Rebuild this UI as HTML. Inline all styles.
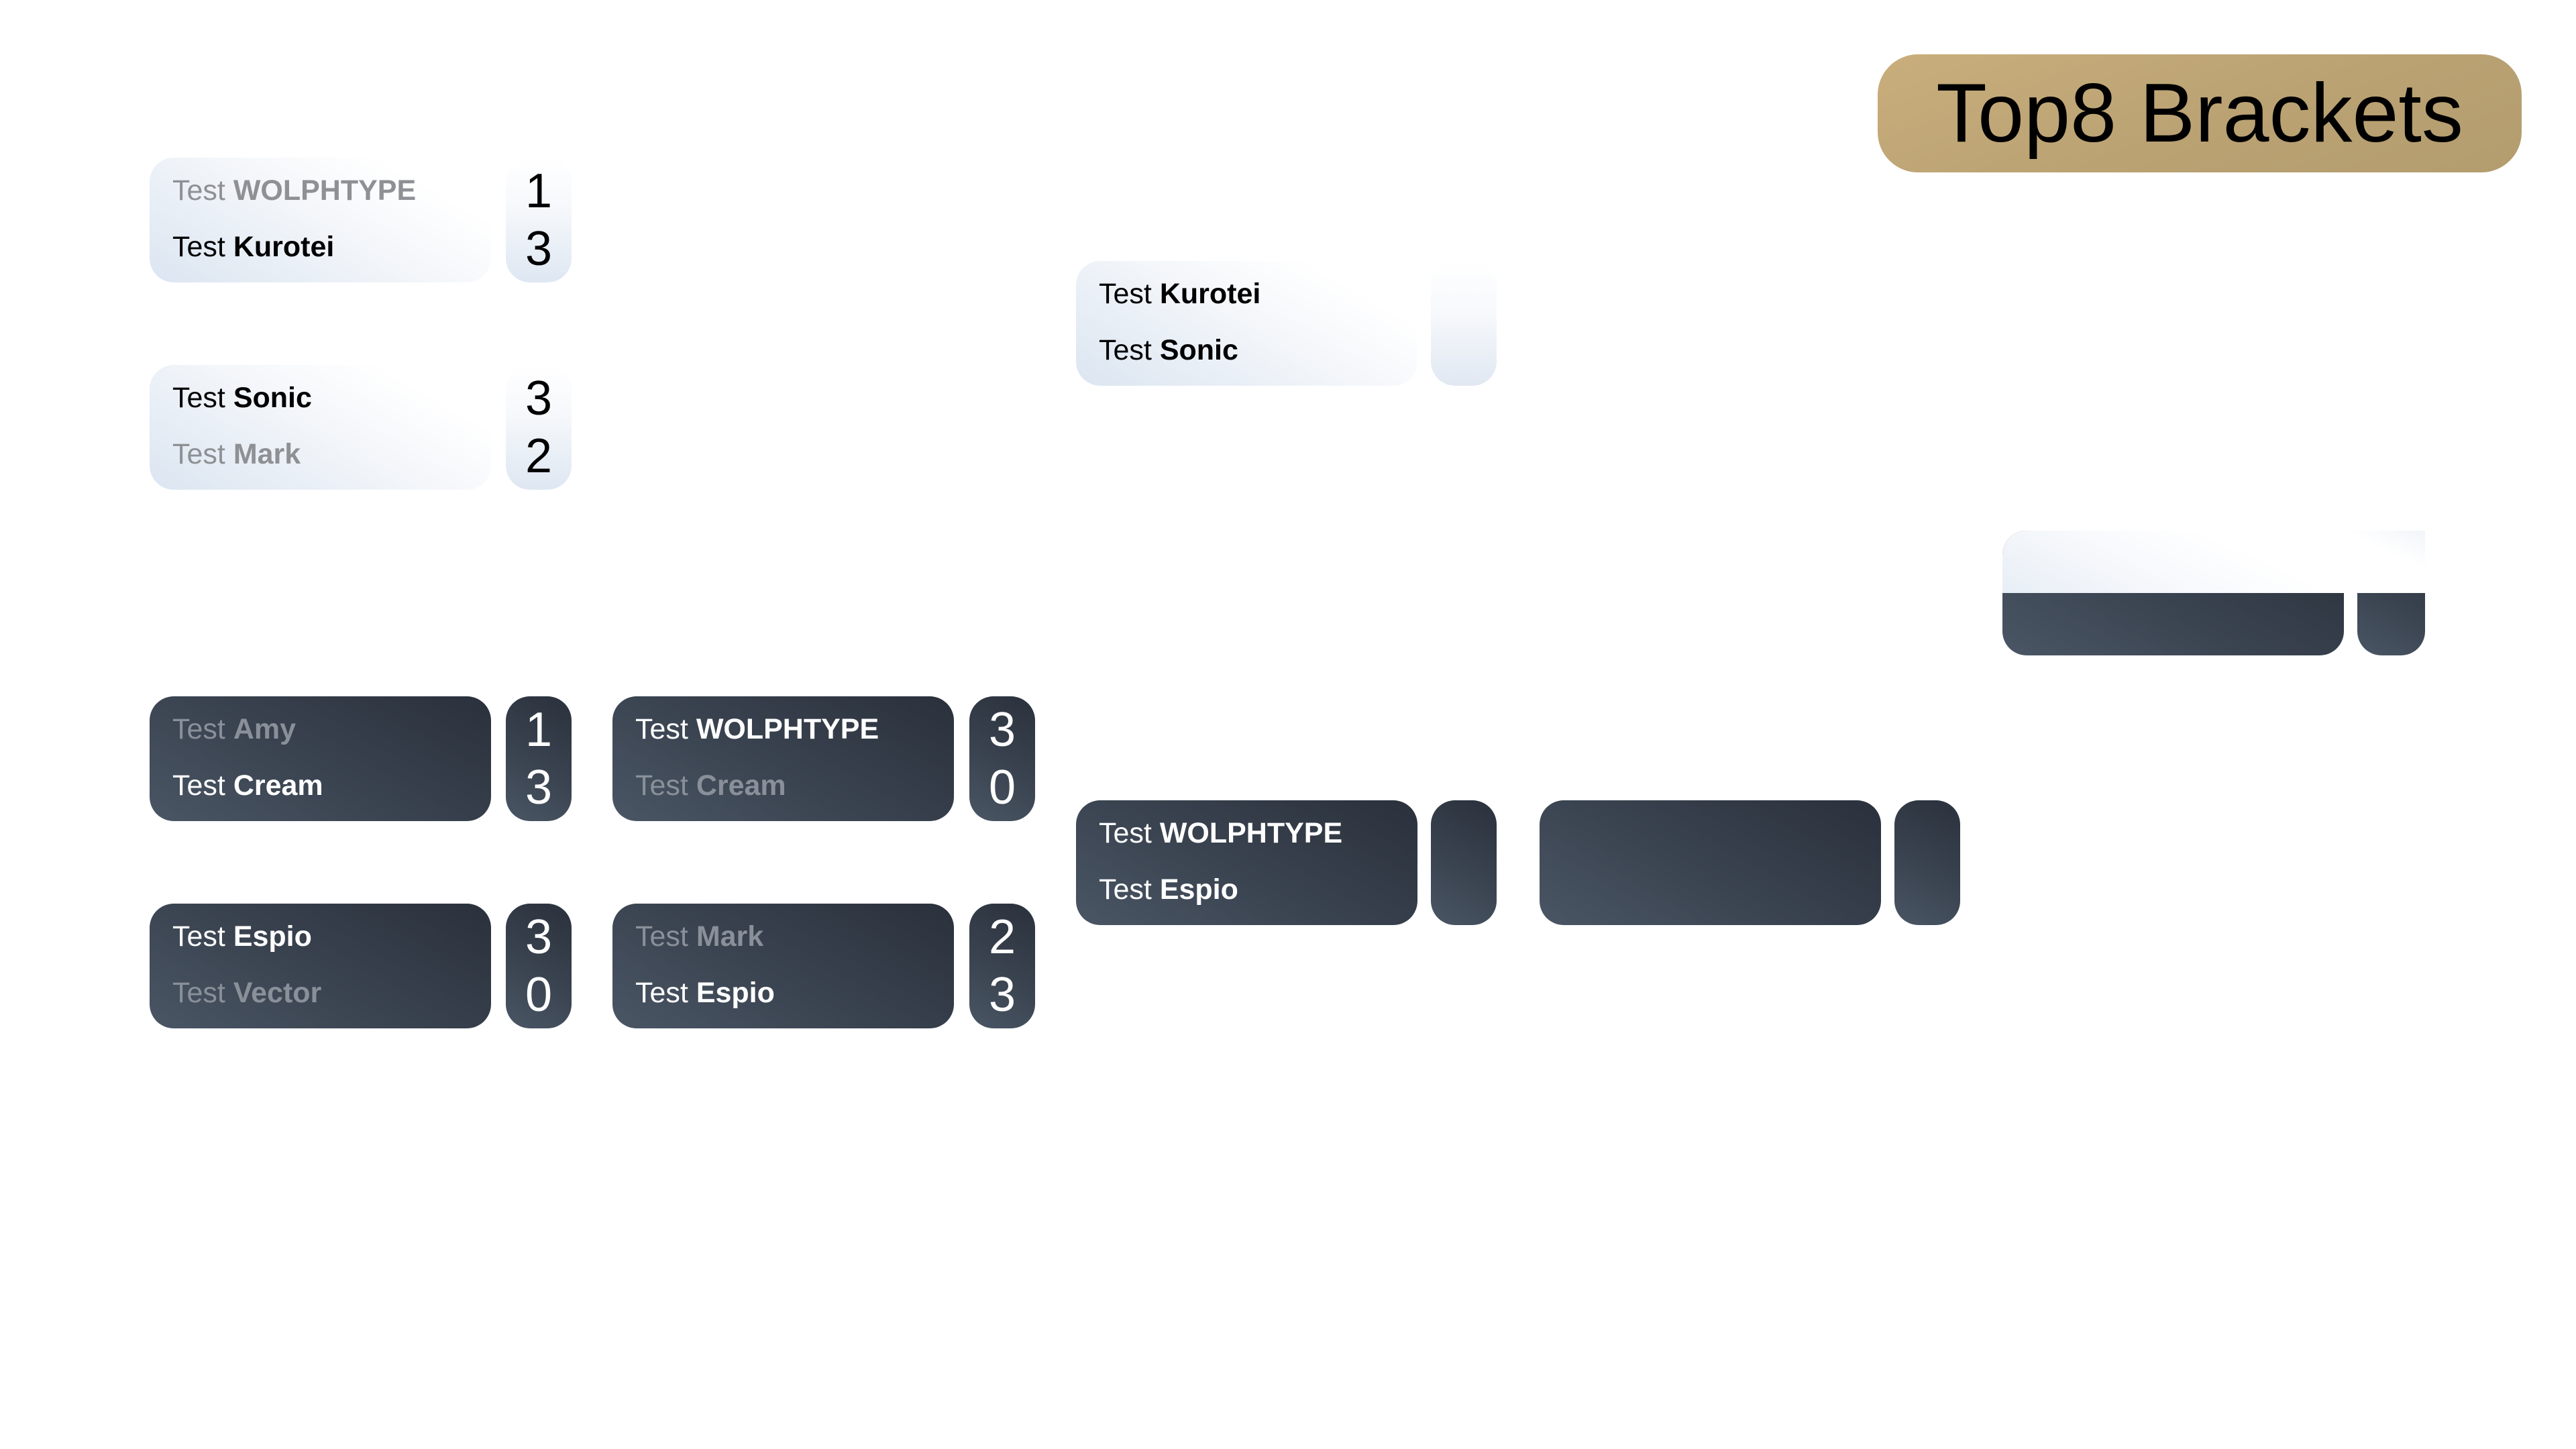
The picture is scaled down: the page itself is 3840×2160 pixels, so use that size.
<!DOCTYPE html>
<html><head><meta charset="utf-8"><style>
*{margin:0;padding:0;box-sizing:border-box}
body{width:3840px;height:2160px;background:#fff;position:relative;overflow:hidden;font-family:"Liberation Sans",sans-serif}
.n{position:absolute;width:509px;height:186px;border-radius:36px}
.s{position:absolute;width:98px;height:186px;border-radius:36px}
.L{background:linear-gradient(30deg,#dbe5f1 0%,#f3f6fa 50%,#ffffff 80%)}
.LS{background:linear-gradient(180deg,#ffffff 0%,#f6f8fb 40%,#dee7f2 100%)}
.D{background:linear-gradient(210deg,#2a313c 0%,#3a4350 55%,#4a5665 100%)}
.t{position:absolute;left:34px;font-size:43px;white-space:nowrap;line-height:1}
.t b{font-weight:bold}
.r1{top:28px}.r2{top:112px}
.d{position:absolute;left:0;width:98px;text-align:center;font-size:72px;line-height:1}
.d1{top:14px}.d2{top:100px}
.bk{color:#000}.gy{color:#8e9094}.wh{color:#fff}.dg{color:#8a9099}
</style></head><body>

<div style="position:absolute;left:2799px;top:81px;width:960px;height:176px;border-radius:60px;background:linear-gradient(160deg,#c9ae7c 0%,#baa273 55%,#b39c6e 100%)"></div>
<div style="position:absolute;left:2799px;top:81px;width:960px;height:176px;line-height:176px;text-align:center;font-size:124px;color:#000">Top8 Brackets</div>

<div class="n L" style="left:223px;top:235px"><div class="t r1 gy">Test <b>WOLPHTYPE</b></div><div class="t r2 bk">Test <b>Kurotei</b></div></div>
<div class="s LS" style="left:754px;top:235px"><div class="d d1 bk">1</div><div class="d d2 bk">3</div></div>
<div class="n L" style="left:223px;top:544px"><div class="t r1 bk">Test <b>Sonic</b></div><div class="t r2 gy">Test <b>Mark</b></div></div>
<div class="s LS" style="left:754px;top:544px"><div class="d d1 bk">3</div><div class="d d2 bk">2</div></div>
<div class="n L" style="left:1604px;top:389px"><div class="t r1 bk">Test <b>Kurotei</b></div><div class="t r2 bk">Test <b>Sonic</b></div></div>
<div class="s" style="left:2133px;top:389px;background:linear-gradient(180deg,#ffffff 0%,#f7f9fc 40%,#e1e8f2 100%)"></div>

<div class="n D" style="left:223px;top:1038px"><div class="t r1 dg">Test <b>Amy</b></div><div class="t r2 wh">Test <b>Cream</b></div></div>
<div class="s D" style="left:754px;top:1038px"><div class="d d1 wh">1</div><div class="d d2 wh">3</div></div>
<div class="n D" style="left:913px;top:1038px"><div class="t r1 wh">Test <b>WOLPHTYPE</b></div><div class="t r2 dg">Test <b>Cream</b></div></div>
<div class="s D" style="left:1445px;top:1038px"><div class="d d1 wh">3</div><div class="d d2 wh">0</div></div>
<div class="n D" style="left:223px;top:1347px"><div class="t r1 wh">Test <b>Espio</b></div><div class="t r2 dg">Test <b>Vector</b></div></div>
<div class="s D" style="left:754px;top:1347px"><div class="d d1 wh">3</div><div class="d d2 wh">0</div></div>
<div class="n D" style="left:913px;top:1347px"><div class="t r1 dg">Test <b>Mark</b></div><div class="t r2 wh">Test <b>Espio</b></div></div>
<div class="s D" style="left:1445px;top:1347px"><div class="d d1 wh">2</div><div class="d d2 wh">3</div></div>
<div class="n D" style="left:1604px;top:1193px"><div class="t r1 wh">Test <b>WOLPHTYPE</b></div><div class="t r2 wh">Test <b>Espio</b></div></div>
<div class="s D" style="left:2133px;top:1193px"></div>
<div class="n D" style="left:2295px;top:1193px"></div>
<div class="s D" style="left:2824px;top:1193px"></div>

<div class="n D" style="left:2985px;top:791px"></div>
<div class="s D" style="left:3514px;top:791px;width:101px"></div>
<div style="position:absolute;left:2985px;top:791px;width:630px;height:93px;border-radius:36px 0 0 0;background:linear-gradient(25deg,#e8eef6 0%,#f7f9fc 35%,#ffffff 60%,#ffffff 85%,#f2f5f9 100%)"></div>

</body></html>
